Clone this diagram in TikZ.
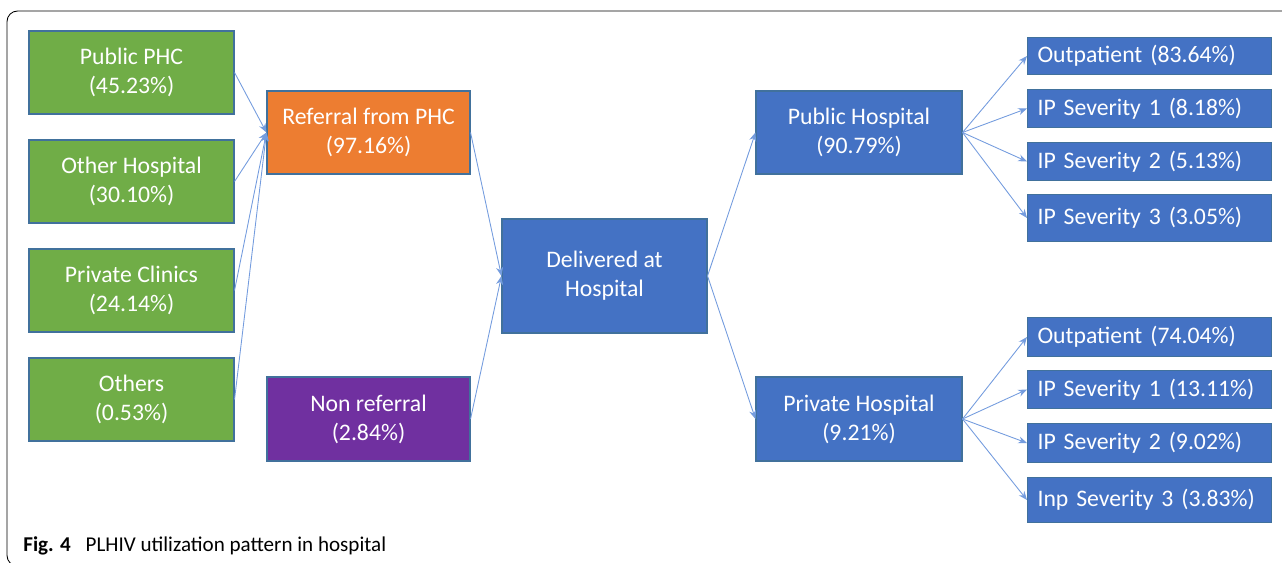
\documentclass[tikz,border=0pt]{standalone}
\usepackage{fontspec}
\setmainfont{Carlito}
\usetikzlibrary{arrows.meta}
\definecolor{boxgreen}{RGB}{112,173,71}
\definecolor{boxorange}{RGB}{237,125,49}
\definecolor{boxpurple}{RGB}{112,48,160}
\definecolor{boxblue}{RGB}{68,114,196}
\definecolor{boxedge}{RGB}{65,113,156}
\definecolor{flowline}{RGB}{116,156,222}

\begin{document}
\begin{tikzpicture}
[x=0.02cm,y=-0.02cm,
  boxdecorate/.style={rectangle,draw=boxedge,line width=0.6pt,text=white,
    align=center,inner sep=0pt,font=\fontsize{13.5}{16.5}\selectfont},
  leafdecorate/.style={boxdecorate,fill=boxblue,anchor=west,align=left,
    inner xsep=0.2cm,text width=4.48cm},
  linedecorate/.style={draw=flowline,line width=0.5pt,-{Stealth[length=5pt,width=4pt]}}]
\useasboundingbox (0,0) rectangle (1282,563);
%% frame
\draw[line width=0.5pt,rounded corners=6pt] (1300,566) -- (7,566) -- (7,11) -- (1300,11);
%% boxes
\foreach \nodename/\x/\y/\w/\h/\fillcol/\txt in {
  pubphc/131.5/72.5/205/83/boxgreen/{Public PHC\\(45.23\%)},
  othhosp/131.5/181.5/205/83/boxgreen/{Other Hospital\\(30.10\%)},
  privclin/131.5/290.5/205/83/boxgreen/{Private Clinics\\(24.14\%)},
  others/131.5/399.5/205/83/boxgreen/{Others\\(0.53\%)},
  referral/368.5/132.5/203/83/boxorange/{Referral from PHC\\(97.16\%)},
  nonref/368.5/419/203/84/boxpurple/{Non referral\\(2.84\%)},
  delivered/604.5/276/205/114/boxblue/{Delivered at\\Hospital},
  pubhosp/859/132.5/206/83/boxblue/{Public Hospital\\(90.79\%)},
  privhosp/859/419/206/84/boxblue/{Private Hospital\\(9.21\%)}}
{
  \node (\nodename) at (\x,\y) [boxdecorate,fill=\fillcol,
    minimum width=\w*0.02cm,minimum height=\h*0.02cm] {\txt};
}
%% outcome boxes
\foreach \nodename/\y/\h/\txt in {
  puba/56/37/{Outpatient (83.64\%)},
  pubb/108.5/38/{IP Severity 1 (8.18\%)},
  pubc/161.5/38/{IP Severity 2 (5.13\%)},
  pubd/218/47/{IP Severity 3 (3.05\%)},
  priva/337/39/{Outpatient (74.04\%)},
  privb/389.5/38/{IP Severity 1 (13.11\%)},
  privc/443/39/{IP Severity 2 (9.02\%)},
  privd/500/45/{Inp Severity 3 (3.83\%)}}
{
  \node (\nodename) at (1027,\y) [leafdecorate,minimum height=\h*0.02cm] {\txt};
}
%% arrows
\path
\foreach \startnode/\endnode in {pubphc/referral, othhosp/referral,
  privclin/referral, others/referral, referral/delivered, nonref/delivered,
  delivered/pubhosp, delivered/privhosp, pubhosp/puba, pubhosp/pubb,
  pubhosp/pubc, pubhosp/pubd, privhosp/priva, privhosp/privb,
  privhosp/privc, privhosp/privd}
{
  (\startnode.east) edge[linedecorate] (\endnode.west)
};
%% caption
\node (caption) at (23,552) [anchor=base west,inner sep=0pt,font=\fontsize{12}{14}\selectfont]
  {\textbf{Fig. 4}\hspace{0.7em}PLHIV utilization pattern in hospital};
\end{tikzpicture}
\end{document}
